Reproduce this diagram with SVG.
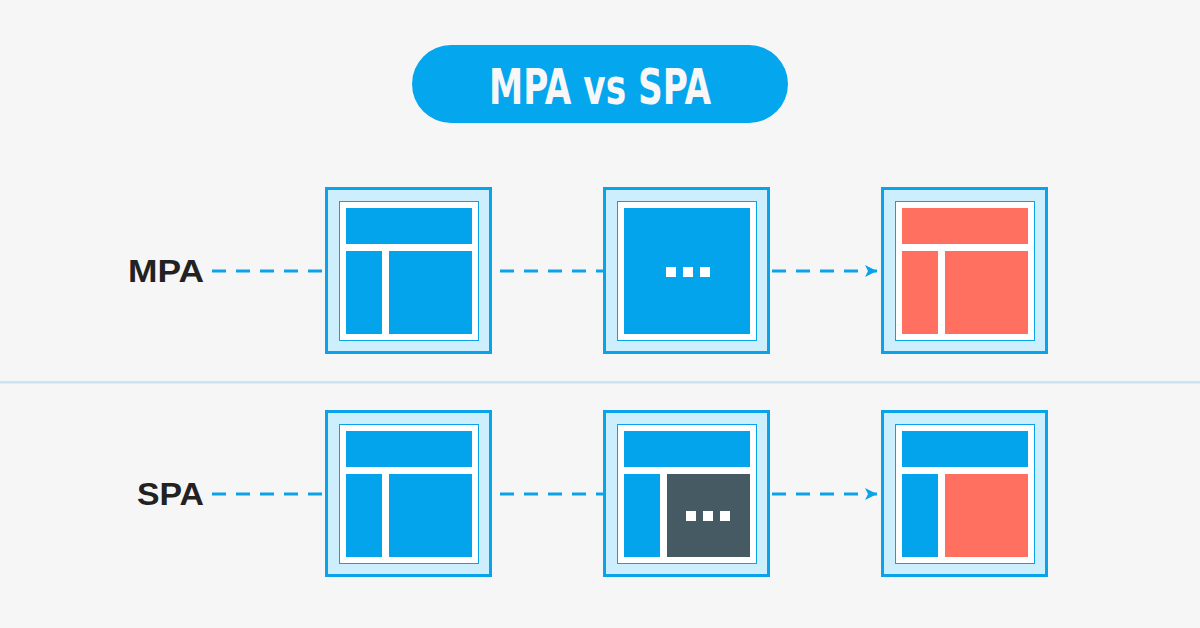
<svg xmlns="http://www.w3.org/2000/svg" width="1200" height="628" viewBox="0 0 1200 628">
<defs>
<style>
.outer{fill:#cdeefc;stroke:#0aa3ea;stroke-width:3}
.inner{fill:#ffffff;stroke:#0aa3ea;stroke-width:1}
.blue{fill:#03a4ec}
.red{fill:#ff7061}
.dark{fill:#465a63}
.dot{fill:#ffffff}
.dash{stroke:#0aa3ea;stroke-width:3;stroke-dasharray:14 10;fill:none}
.lbl{font-family:"Liberation Sans",Arial,sans-serif;font-weight:bold;font-size:32px;fill:#222222}
</style>
<marker id="arr" viewBox="0 0 12 12" refX="12" refY="6" markerWidth="12" markerHeight="12" markerUnits="userSpaceOnUse" orient="auto">
<path d="M0,0 L12,6 L0,12 L3,6 Z" fill="#0aa3ea"/>
</marker>
</defs>
<rect width="1200" height="628" fill="#f6f6f6"/>
<rect x="0" y="381" width="1200" height="2.5" fill="#c6e6f3"/>

<g id="title">
<rect x="412" y="45" width="376" height="78" rx="39" fill="#04a6ee"/>
<text x="600" y="104" text-anchor="middle" font-family="DejaVu Sans Condensed,DejaVu Sans,sans-serif" font-weight="bold" font-size="49" fill="#f7f7f7" textLength="222" lengthAdjust="spacingAndGlyphs">MPA vs SPA</text>
</g>

<g id="connectors">
<line class="dash" x1="212" y1="271" x2="325" y2="271"/>
<line class="dash" x1="500" y1="271" x2="603" y2="271"/>
<line class="dash" x1="772" y1="271" x2="877" y2="271" marker-end="url(#arr)"/>
<line class="dash" x1="212" y1="494" x2="325" y2="494"/>
<line class="dash" x1="500" y1="494" x2="603" y2="494"/>
<line class="dash" x1="772" y1="494" x2="877" y2="494" marker-end="url(#arr)"/>
</g>

<g id="label-mpa"><text class="lbl" x="128" y="282" textLength="76" lengthAdjust="spacingAndGlyphs">MPA</text></g>
<g id="label-spa"><text class="lbl" x="137" y="505" textLength="67" lengthAdjust="spacingAndGlyphs">SPA</text></g>

<g id="mpa-page1" transform="translate(325,187)">
<rect class="outer" x="1.5" y="1.5" width="164" height="164"/>
<rect class="inner" x="14.5" y="14.5" width="139" height="139"/>
<rect class="blue" x="21" y="21" width="126" height="36"/>
<rect class="blue" x="21" y="64" width="36" height="83"/>
<rect class="blue" x="64" y="64" width="83" height="83"/>
</g>

<g id="mpa-loading" transform="translate(603,187)">
<rect class="outer" x="1.5" y="1.5" width="164" height="164"/>
<rect class="inner" x="14.5" y="14.5" width="139" height="139"/>
<rect class="blue" x="21" y="21" width="126" height="126"/>
<rect class="dot" x="63" y="80" width="10" height="10"/>
<rect class="dot" x="80" y="80" width="10" height="10"/>
<rect class="dot" x="97" y="80" width="10" height="10"/>
</g>

<g id="mpa-page2" transform="translate(881,187)">
<rect class="outer" x="1.5" y="1.5" width="164" height="164"/>
<rect class="inner" x="14.5" y="14.5" width="139" height="139"/>
<rect class="red" x="21" y="21" width="126" height="36"/>
<rect class="red" x="21" y="64" width="36" height="83"/>
<rect class="red" x="64" y="64" width="83" height="83"/>
</g>

<g id="spa-page1" transform="translate(325,410)">
<rect class="outer" x="1.5" y="1.5" width="164" height="164"/>
<rect class="inner" x="14.5" y="14.5" width="139" height="139"/>
<rect class="blue" x="21" y="21" width="126" height="36"/>
<rect class="blue" x="21" y="64" width="36" height="83"/>
<rect class="blue" x="64" y="64" width="83" height="83"/>
</g>

<g id="spa-loading" transform="translate(603,410)">
<rect class="outer" x="1.5" y="1.5" width="164" height="164"/>
<rect class="inner" x="14.5" y="14.5" width="139" height="139"/>
<rect class="blue" x="21" y="21" width="126" height="36"/>
<rect class="blue" x="21" y="64" width="36" height="83"/>
<rect class="dark" x="64" y="64" width="83" height="83"/>
<rect class="dot" x="83" y="101" width="10" height="10"/>
<rect class="dot" x="100" y="101" width="10" height="10"/>
<rect class="dot" x="117" y="101" width="10" height="10"/>
</g>

<g id="spa-page2" transform="translate(881,410)">
<rect class="outer" x="1.5" y="1.5" width="164" height="164"/>
<rect class="inner" x="14.5" y="14.5" width="139" height="139"/>
<rect class="blue" x="21" y="21" width="126" height="36"/>
<rect class="blue" x="21" y="64" width="36" height="83"/>
<rect class="red" x="64" y="64" width="83" height="83"/>
</g>
</svg>
